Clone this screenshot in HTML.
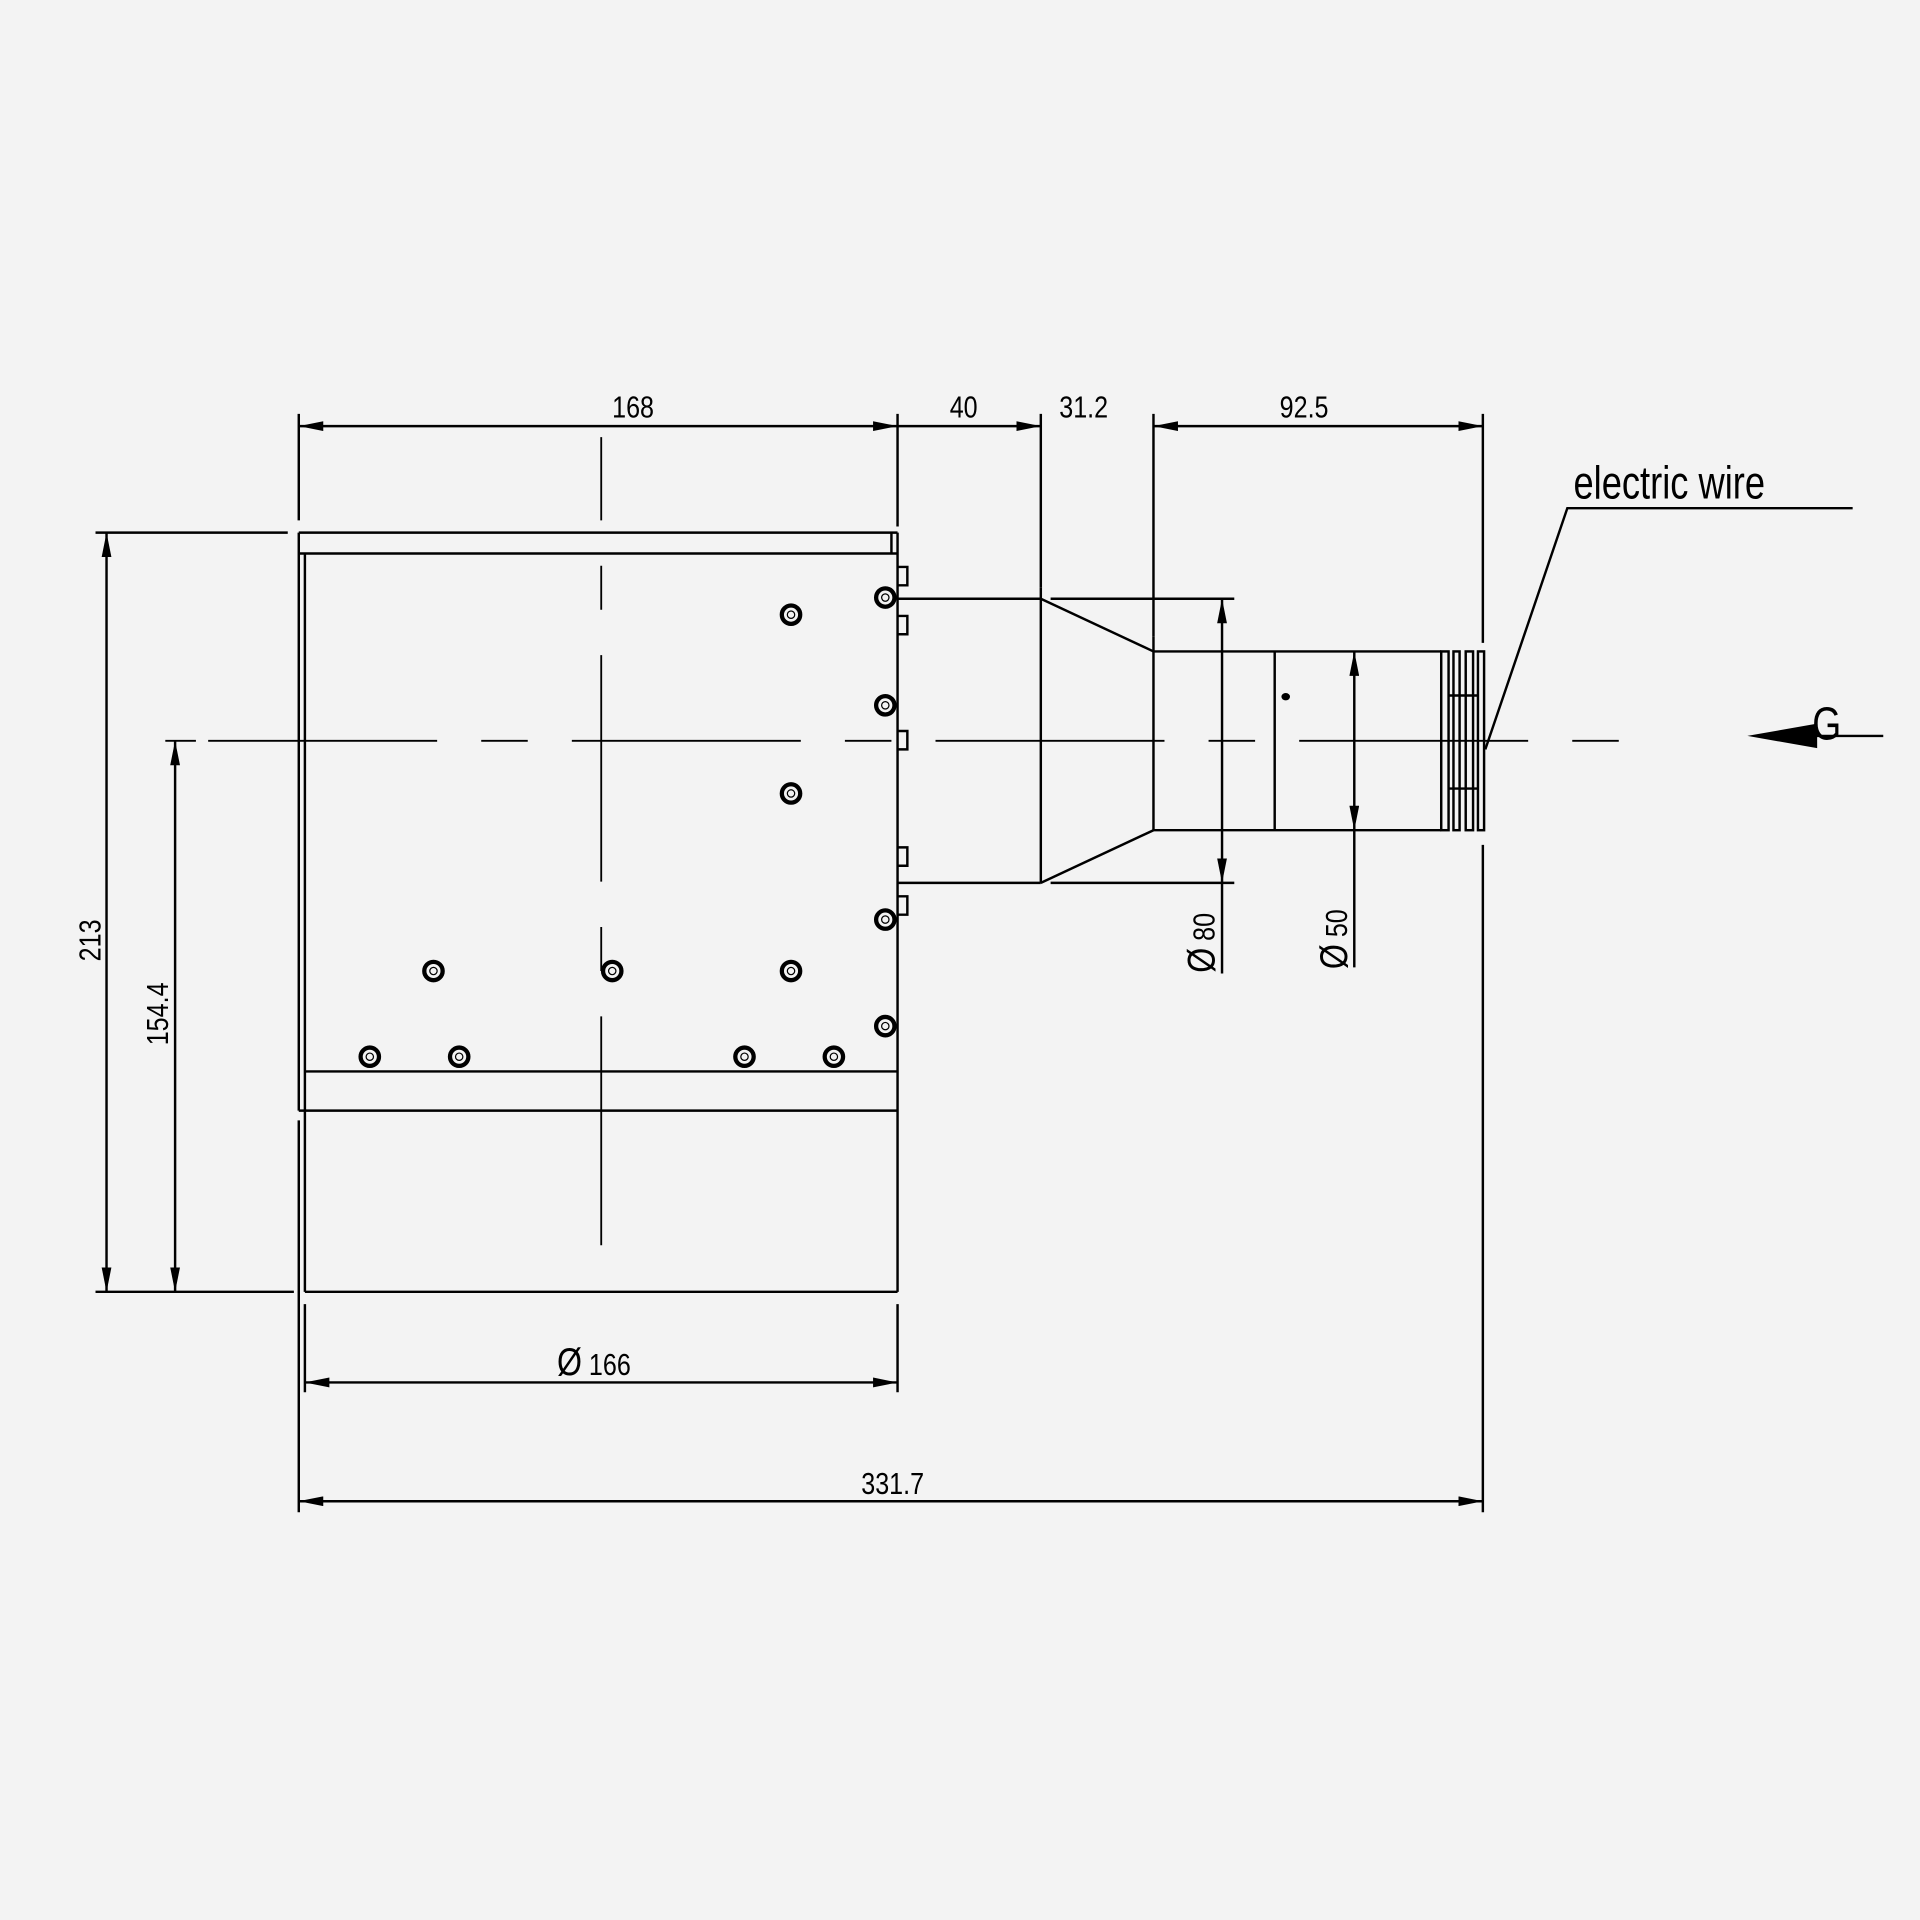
<!DOCTYPE html>
<html><head><meta charset="utf-8"><style>
html,body{margin:0;padding:0;background:#f3f3f3;}
svg{display:block;}
text{font-family:"Liberation Sans",sans-serif;fill:#000;}
</style></head><body>
<svg width="1920" height="1920" viewBox="0 0 1568 1568" xmlns="http://www.w3.org/2000/svg">
<defs>
<marker id="a" viewBox="0 0 20 8" refX="20" refY="4" markerWidth="20" markerHeight="8" markerUnits="userSpaceOnUse" orient="auto-start-reverse"><path d="M0,0 L20,4 L0,8 Z" fill="#000"/></marker>
<g id="s" fill="none" stroke="#000"><circle r="7.5" stroke-width="3.5"/><circle r="3" stroke-width="1"/></g>
</defs>
<rect width="1568" height="1568" fill="#f3f3f3"/>
<g stroke="#000" stroke-width="2" fill="none">
<line x1="244" y1="435" x2="244" y2="907"/>
<line x1="244" y1="915" x2="244" y2="1235"/>
<line x1="249" y1="452" x2="249" y2="1055"/>
<line x1="244" y1="435" x2="733" y2="435"/>
<line x1="244" y1="452" x2="733" y2="452"/>
<line x1="728" y1="435" x2="728" y2="452"/>
<line x1="733" y1="435" x2="733" y2="1055"/>
<line x1="249" y1="875" x2="733" y2="875"/>
<line x1="244" y1="907" x2="733" y2="907"/>
<line x1="249" y1="1055" x2="733" y2="1055"/>
<path d="M733,463 H741 V478 H733 M733,503 H741 V518 H733 M733,597 H741 V612 H733 M733,692 H741 V707 H733 M733,732 H741 V747 H733"/>
<path d="M491,357 V425 M491,462 V498 M491,535 V720 M491,757 V793 M491,830 V1017" stroke-width="1.5"/>
<line x1="135" y1="605" x2="160" y2="605" stroke-width="1.5"/>
<line x1="170" y1="605" x2="1322" y2="605" stroke-width="1.5" stroke-dasharray="187,36,38,36"/>
<line x1="733" y1="489" x2="850" y2="489"/>
<line x1="733" y1="721" x2="850" y2="721"/>
<line x1="850" y1="480" x2="850" y2="721"/>
<line x1="850" y1="489" x2="942" y2="532"/>
<line x1="850" y1="721" x2="942" y2="678"/>
<line x1="942" y1="520" x2="942" y2="678"/>
<line x1="942" y1="532" x2="1177" y2="532"/>
<line x1="942" y1="678" x2="1177" y2="678"/>
<line x1="1041" y1="532" x2="1041" y2="678"/>
<rect x="1177" y="532" width="6" height="146"/>
<rect x="1187" y="532" width="5" height="146"/>
<rect x="1197" y="532" width="6" height="146"/>
<rect x="1207" y="532" width="5" height="146"/>
<path d="M1183,568 H1207 M1183,644 H1207"/>
<line x1="244" y1="338" x2="244" y2="425"/>
<line x1="733" y1="338" x2="733" y2="430"/>
<line x1="850" y1="338" x2="850" y2="480"/>
<line x1="942" y1="338" x2="942" y2="520"/>
<line x1="1211" y1="338" x2="1211" y2="525"/>
<line x1="1211" y1="690" x2="1211" y2="1235"/>
<line x1="244" y1="348" x2="733" y2="348" marker-start="url(#a)" marker-end="url(#a)"/>
<line x1="733" y1="348" x2="850" y2="348" marker-end="url(#a)"/>
<line x1="942" y1="348" x2="1211" y2="348" marker-start="url(#a)" marker-end="url(#a)"/>
<line x1="858" y1="489" x2="1008" y2="489"/>
<line x1="858" y1="721" x2="1008" y2="721"/>
<line x1="998" y1="489" x2="998" y2="721" marker-start="url(#a)" marker-end="url(#a)"/>
<line x1="998" y1="721" x2="998" y2="795"/>
<line x1="1106" y1="532" x2="1106" y2="678" marker-start="url(#a)" marker-end="url(#a)"/>
<line x1="1106" y1="678" x2="1106" y2="790"/>
<line x1="78" y1="435" x2="235" y2="435"/>
<line x1="78" y1="1055" x2="240" y2="1055"/>
<line x1="87" y1="435" x2="87" y2="1055" marker-start="url(#a)" marker-end="url(#a)"/>
<line x1="143" y1="605" x2="143" y2="1055" marker-start="url(#a)" marker-end="url(#a)"/>
<line x1="733" y1="1065" x2="733" y2="1137"/>
<line x1="249" y1="1065" x2="249" y2="1137"/>
<line x1="249" y1="1129" x2="733" y2="1129" marker-start="url(#a)" marker-end="url(#a)"/>
<line x1="244" y1="1226" x2="1211" y2="1226" marker-start="url(#a)" marker-end="url(#a)"/>
<polyline points="1513,415 1280,415 1213,612"/>
<line x1="1470" y1="601" x2="1538" y2="601"/>
</g>
<path d="M1427,601 L1484,591 L1484,611 Z" fill="#000"/>
<ellipse cx="1050" cy="569" rx="3.5" ry="3" fill="#000"/>
<use href="#s" x="723" y="488"/><use href="#s" x="723" y="576"/><use href="#s" x="646" y="502"/>
<use href="#s" x="646" y="648"/><use href="#s" x="723" y="751"/><use href="#s" x="723" y="838"/>
<use href="#s" x="354" y="793"/><use href="#s" x="500" y="793"/><use href="#s" x="646" y="793"/>
<use href="#s" x="302" y="863"/><use href="#s" x="375" y="863"/><use href="#s" x="608" y="863"/><use href="#s" x="681" y="863"/>
<g font-size="25">
<text x="517" y="341" text-anchor="middle" transform="translate(517 0) scale(0.82 1) translate(-517 0)">168</text>
<text x="787" y="341" text-anchor="middle" transform="translate(787 0) scale(0.82 1) translate(-787 0)">40</text>
<text x="885" y="341" text-anchor="middle" transform="translate(885 0) scale(0.82 1) translate(-885 0)">31.2</text>
<text x="1065" y="341" text-anchor="middle" transform="translate(1065 0) scale(0.82 1) translate(-1065 0)">92.5</text>
<text x="485" y="1123" text-anchor="middle" transform="translate(485 0) scale(0.82 1) translate(-485 0)"><tspan font-size="32">Ø</tspan> 166</text>
<text x="729" y="1220" text-anchor="middle" transform="translate(729 0) scale(0.82 1) translate(-729 0)">331.7</text>
<text transform="translate(82 768) rotate(-90) scale(0.82 1)" text-anchor="middle">213</text>
<text transform="translate(137 828) rotate(-90) scale(0.82 1)" text-anchor="middle">154.4</text>
<text transform="translate(992 770) rotate(-90) scale(0.82 1)" text-anchor="middle"><tspan font-size="32">Ø</tspan> 80</text>
<text transform="translate(1100 767) rotate(-90) scale(0.82 1)" text-anchor="middle"><tspan font-size="32">Ø</tspan> 50</text>
</g>
<text transform="translate(1285 407) scale(0.78 1)" font-size="38">electric wire</text>
<text transform="translate(1480 604) scale(0.8 1)" font-size="38">G</text>
</svg>
</body></html>
